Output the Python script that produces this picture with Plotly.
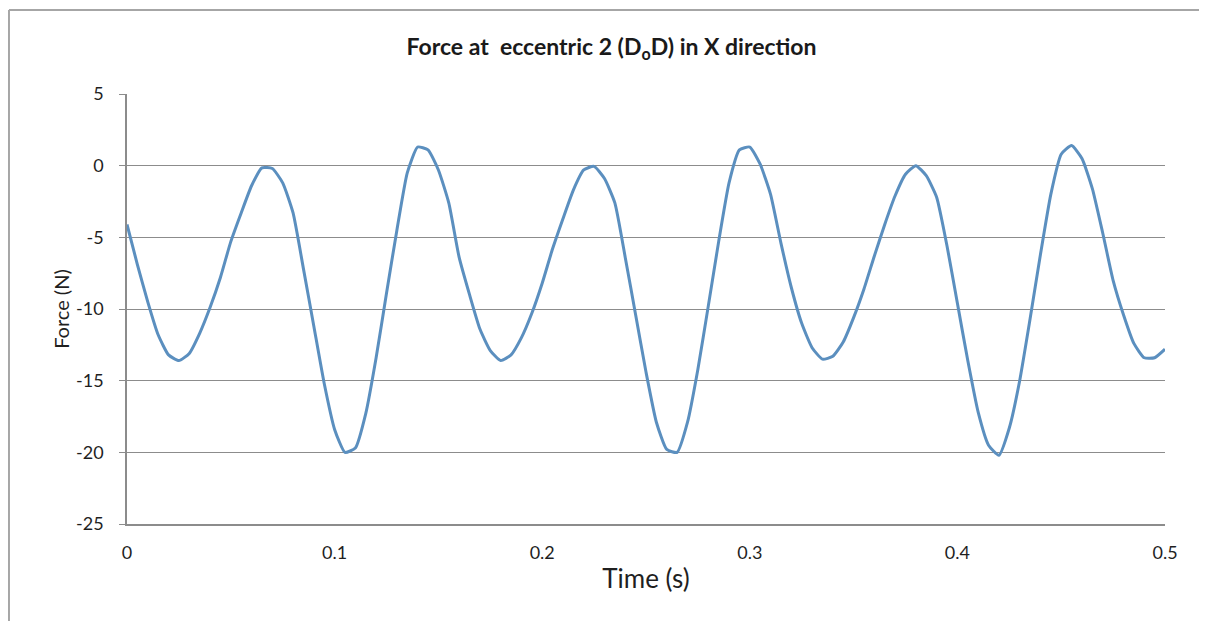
import plotly.graph_objects as go

# sample times (s), 5 ms step
time_s = [round(i * 0.005, 3) for i in range(101)]

# force (N)
force_n = [
    -4.1, -6.9, -9.5, -11.8, -13.2, -13.6, -13.1, -11.7, -9.9, -7.8,
    -5.3, -3.3, -1.4, -0.15, -0.2, -1.2, -3.3, -7.2, -11.2, -15.2,
    -18.4, -20.0, -19.7, -17.3, -13.4, -8.9, -4.5, -0.5, 1.3, 1.1,
    -0.3, -2.6, -6.4, -9.0, -11.4, -12.9, -13.6, -13.2, -12.0, -10.3,
    -8.2, -5.8, -3.7, -1.7, -0.3, -0.05, -0.9, -2.6, -6.4, -10.4,
    -14.4, -17.9, -19.8, -20.0, -17.9, -14.2, -9.8, -5.3, -1.2, 1.1,
    1.3, 0.1, -2.0, -5.4, -8.5, -11.0, -12.7, -13.5, -13.3, -12.3,
    -10.6, -8.6, -6.3, -4.1, -2.1, -0.6, 0.0, -0.7, -2.2, -5.6,
    -9.6, -13.6, -17.2, -19.5, -20.2, -18.3, -15.0, -10.7, -6.2, -2.0,
    0.8, 1.4, 0.5, -1.6, -4.7, -8.0, -10.4, -12.4, -13.4, -13.4,
    -12.8,
]

x_ticks = [0, 0.1, 0.2, 0.3, 0.4, 0.5]
x_tick_labels = ['0', '0.1', '0.2', '0.3', '0.4', '0.5']
y_ticks = [5, 0, -5, -10, -15, -20, -25]
y_tick_labels = ['5', '0', '-5', '-10', '-15', '-20', '-25']

FONT = 'Lato'
GRID = '#8c8c8c'
TEXT = '#1f1f1f'

fig = go.Figure()
fig.add_trace(go.Scatter(
    x=time_s, y=force_n, mode='lines',
    line=dict(color='#5b8fbf', width=3, shape='spline', smoothing=0.5),
    showlegend=False,
))

# page body adds an 8px offset, so margins are shifted by 8px
fig.update_layout(
    width=1207, height=621,
    margin=dict(l=119, r=50, t=86, b=105),
    paper_bgcolor='white', plot_bgcolor='white',
    font=dict(family=FONT, color=TEXT),
    title=dict(
        text='Force at  eccentric 2 (D<sub>o</sub>D) in X direction',
        x=0.5, xanchor='center', y=0.937, yanchor='middle',
        font=dict(family=FONT, size=23, color='#1a1a1a', weight='bold'),
    ),
    shapes=[
        dict(type='line', xref='paper', yref='paper',
             x0=-0.1137, x1=1.06, y0=1.1953, y1=1.1953,
             line=dict(color='#a6a6a6', width=2)),
        dict(type='line', xref='paper', yref='paper',
             x0=-0.1137, x1=-0.1137, y0=1.1953, y1=-0.25,
             line=dict(color='#a6a6a6', width=2)),
    ],
)

fig.update_xaxes(
    range=[0, 0.5], tickvals=x_ticks, ticktext=x_tick_labels,
    showgrid=False, zeroline=False,
    showline=True, linecolor=GRID, linewidth=1.5,
    ticks='', ticklabelstandoff=12,
    tickfont=dict(family=FONT, size=18, color=TEXT),
    title=dict(text='Time (s)', font=dict(family=FONT, size=26, color=TEXT), standoff=7),
)

fig.update_yaxes(
    range=[-25, 5], tickvals=y_ticks, ticktext=y_tick_labels,
    showgrid=True, gridcolor=GRID, gridwidth=1.2, zeroline=False,
    showline=True, linecolor=GRID, linewidth=1.5,
    ticks='outside', ticklen=6, tickcolor=GRID, ticklabelstandoff=12,
    tickfont=dict(family=FONT, size=18, color=TEXT),
    title=dict(text='Force (N)', font=dict(family=FONT, size=20, color=TEXT), standoff=1),
)

fig.write_html("out.html")
